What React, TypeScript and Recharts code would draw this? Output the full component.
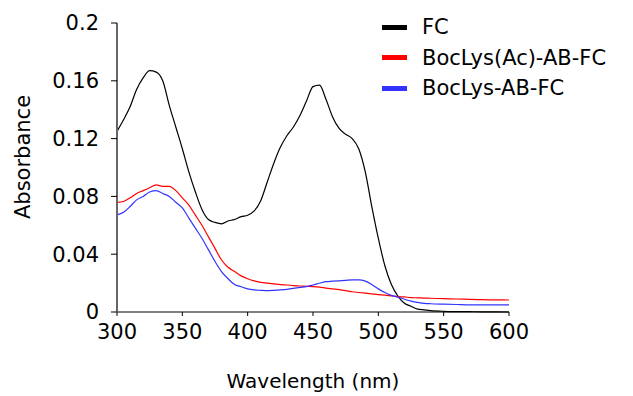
import React from 'react';
import { LineChart, Line, XAxis, YAxis } from 'recharts';

const wavelengths = [
  300, 305, 310, 315, 320, 325, 330, 335, 340, 345, 350, 355, 360, 365, 370, 375, 380, 385, 390, 395,
  400, 405, 410, 415, 420, 425, 430, 435, 440, 445, 450, 455, 460, 465, 470, 475, 480, 485, 490, 495,
  500, 505, 510, 515, 520, 525, 530, 535, 540, 550, 560, 570, 580, 590, 600,
];

const fc = [
  0.125, 0.133, 0.142, 0.154, 0.162, 0.167, 0.166, 0.16, 0.143, 0.128, 0.113, 0.097, 0.083, 0.071, 0.064, 0.062, 0.061, 0.063, 0.064, 0.066,
  0.067, 0.07, 0.077, 0.09, 0.103, 0.114, 0.122, 0.128, 0.136, 0.146, 0.156, 0.157, 0.147, 0.135, 0.127, 0.123, 0.12, 0.113, 0.097, 0.073,
  0.051, 0.032, 0.019, 0.011, 0.006, 0.004, 0.002, 0.0015, 0.001, 0.0005, 0.0003, 0.0002, 0.0001, 0.0001, 0,
];

const bocLysAc = [
  0.0758, 0.0765, 0.079, 0.082, 0.084, 0.086, 0.088, 0.087, 0.087, 0.084, 0.079, 0.074, 0.067, 0.06, 0.052, 0.044, 0.036, 0.031, 0.028, 0.025,
  0.023, 0.0215, 0.0205, 0.02, 0.0195, 0.019, 0.0187, 0.0183, 0.018, 0.0178, 0.0176, 0.0172, 0.0165, 0.016, 0.0155, 0.0148, 0.014, 0.0135, 0.013, 0.0125,
  0.012, 0.0117, 0.0112, 0.0107, 0.0104, 0.01, 0.0098, 0.0096, 0.0095, 0.0092, 0.009, 0.0087, 0.0085, 0.0084, 0.0083,
];

const bocLys = [
  0.0672, 0.069, 0.073, 0.0776, 0.08, 0.083, 0.084, 0.082, 0.08, 0.076, 0.072, 0.065, 0.058, 0.051, 0.043, 0.035, 0.028, 0.023, 0.019, 0.0175,
  0.016, 0.0153, 0.015, 0.0148, 0.015, 0.0153, 0.0157, 0.0163, 0.017, 0.0176, 0.0187, 0.0199, 0.021, 0.0213, 0.0216, 0.0219, 0.0222, 0.0222, 0.0214, 0.019,
  0.016, 0.0135, 0.0115, 0.0103, 0.0088, 0.0075, 0.0067, 0.006, 0.0057, 0.0054, 0.0052, 0.005, 0.005, 0.0049, 0.0049,
];

const xTicks = [300, 350, 400, 450, 500, 550, 600];
const yTicks = [0, 0.04, 0.08, 0.12, 0.16, 0.2];
const yTickLabels = ['0', '0.04', '0.08', '0.12', '0.16', '0.2'];

const seriesNames = ['FC', 'BocLys(Ac)-AB-FC', 'BocLys-AB-FC'];
const seriesColors = ['#000000', '#ff0000', '#3333ff'];

const data = wavelengths.map((w, i) => ({ w, fc: fc[i], ac: bocLysAc[i], lys: bocLys[i] }));

const FONT = '"DejaVu Sans", sans-serif';

function LegendBox() {
  return (
    <div style={{ position: 'absolute', left: 382, top: 12, fontFamily: FONT, fontSize: 21, color: '#000' }}>
      {seriesNames.map((name, i) => (
        <div key={name} style={{ display: 'flex', alignItems: 'center', height: 30.5, whiteSpace: 'nowrap' }}>
          <div style={{ width: 25, height: 5, background: seriesColors[i], marginRight: 15 }} />
          <span>{name}</span>
        </div>
      ))}
    </div>
  );
}

const YLabel = () => (
  <text
    x={23}
    y={157}
    transform="rotate(-90, 23, 157)"
    textAnchor="middle"
    dominantBaseline="central"
    style={{ fontFamily: FONT, fontSize: 21, fill: '#000' }}
  >
    Absorbance
  </text>
);

export default function App() {
  const tickStyle = { fontFamily: FONT, fontSize: 21, fill: '#000' };
  return (
    <div style={{ position: 'absolute', left: 0, top: 0, width: 633, height: 396, background: '#fff' }}>
      <LineChart width={633} height={396} data={data} margin={{ top: 23, right: 124, bottom: 0, left: 0 }}>
        <XAxis
          dataKey="w"
          type="number"
          domain={[300, 600]}
          ticks={xTicks}
          height={84}
          stroke="#000"
          tickSize={4}
          tickMargin={8}
          tick={tickStyle}
          label={{ value: 'Wavelength (nm)', position: 'insideBottom', offset: 8, style: { fontFamily: FONT, fontSize: 20, fill: '#000' } }}
        />
        <YAxis
          type="number"
          domain={[0, 0.2]}
          ticks={yTicks}
          width={117}
          axisLine={{ stroke: '#666', strokeWidth: 2 }}
          tickLine={{ stroke: '#000' }}
          tickSize={6}
          tickMargin={12}
          tick={tickStyle}
          tickFormatter={(v: number) => yTickLabels[yTicks.indexOf(v)] ?? String(v)}
          label={<YLabel />}
        />
        <Line dataKey="fc" stroke={seriesColors[0]} strokeWidth={1.2} dot={false} type="monotone" isAnimationActive={false} />
        <Line dataKey="ac" stroke={seriesColors[1]} strokeWidth={1.2} dot={false} type="monotone" isAnimationActive={false} />
        <Line dataKey="lys" stroke={seriesColors[2]} strokeWidth={1.2} dot={false} type="monotone" isAnimationActive={false} />
      </LineChart>
      <LegendBox />
    </div>
  );
}
